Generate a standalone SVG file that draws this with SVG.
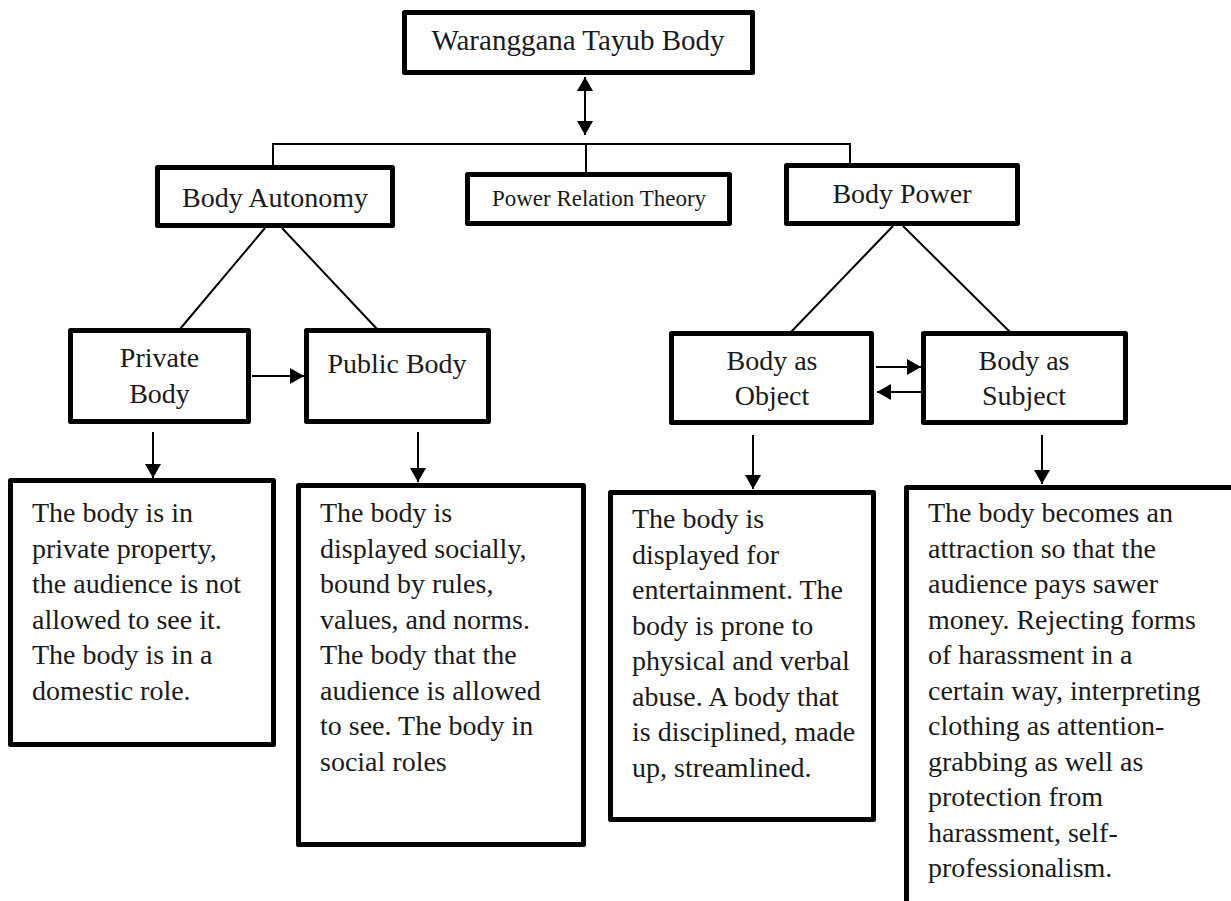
<svg xmlns="http://www.w3.org/2000/svg" width="1231" height="901" viewBox="0 0 1231 901">
<style>
.box{fill:#fff;stroke:#000;stroke-width:5;stroke-linejoin:round}
.t{font-family:"Liberation Serif","Times New Roman",serif;fill:#1a1a1a;font-size:28px}
.c{text-anchor:middle}
.ln{stroke:#000;stroke-width:2;fill:none}
</style>
<defs>
<marker id="ah" markerUnits="userSpaceOnUse" markerWidth="16" markerHeight="16" viewBox="0 0 14 16" refX="14" refY="8" orient="auto-start-reverse">
<path d="M0,0 L14,8 L0,16 Z" fill="#000"/>
</marker>
</defs>
<rect width="1231" height="901" fill="#fff"/>
<g id="connectors">
<line class="ln" x1="585" y1="77" x2="585" y2="135" marker-start="url(#ah)" marker-end="url(#ah)"/>
<line class="ln" x1="272" y1="144" x2="851" y2="144"/>
<line class="ln" x1="273" y1="144" x2="273" y2="166"/>
<line class="ln" x1="586" y1="144" x2="586" y2="173"/>
<line class="ln" x1="850" y1="144" x2="850" y2="164"/>
<line class="ln" x1="265" y1="228" x2="180" y2="329"/>
<line class="ln" x1="282" y1="228" x2="377" y2="329"/>
<line class="ln" x1="893" y1="226" x2="791" y2="332"/>
<line class="ln" x1="903" y1="226" x2="1010" y2="332"/>
<line class="ln" x1="252" y1="376" x2="304" y2="376" marker-end="url(#ah)"/>
<line class="ln" x1="876" y1="367" x2="921" y2="367" marker-end="url(#ah)"/>
<line class="ln" x1="921" y1="392" x2="877" y2="392" marker-end="url(#ah)"/>
<line class="ln" x1="153" y1="432" x2="153" y2="478" marker-end="url(#ah)"/>
<line class="ln" x1="418" y1="432" x2="418" y2="482" marker-end="url(#ah)"/>
<line class="ln" x1="753" y1="435" x2="753" y2="489" marker-end="url(#ah)"/>
<line class="ln" x1="1042" y1="435" x2="1042" y2="484" marker-end="url(#ah)"/>
</g>
<g id="root">
<rect class="box" x="404.5" y="12.5" width="348" height="60"/>
<text class="t c" x="578" y="50" style="font-size:29px">Waranggana Tayub Body</text>
</g>
<g id="autonomy">
<rect class="box" x="157.5" y="167.5" width="235" height="58"/>
<text class="t c" x="275" y="207">Body Autonomy</text>
</g>
<g id="power-relation">
<rect class="box" x="467.5" y="174.5" width="262" height="49"/>
<text class="t c" x="599" y="206" style="font-size:23px">Power Relation Theory</text>
</g>
<g id="body-power">
<rect class="box" x="786.5" y="165.5" width="231" height="58"/>
<text class="t c" x="902" y="203">Body Power</text>
</g>
<g id="private">
<rect class="box" x="70.5" y="330.5" width="178" height="91"/>
<text class="t c" x="159.5" y="367">Private</text>
<text class="t c" x="159.5" y="403">Body</text>
</g>
<g id="public">
<rect class="box" x="306.5" y="330.5" width="182" height="91"/>
<text class="t c" x="397" y="373">Public Body</text>
</g>
<g id="object">
<rect class="box" x="671.5" y="333.5" width="200" height="89"/>
<text class="t c" x="772" y="370">Body as</text>
<text class="t c" x="772" y="405">Object</text>
</g>
<g id="subject">
<rect class="box" x="923.5" y="333.5" width="202" height="89"/>
<text class="t c" x="1024" y="370">Body as</text>
<text class="t c" x="1024" y="405">Subject</text>
</g>
<g id="desc-private">
<rect class="box" x="10.5" y="480.5" width="263" height="264"/>
<text class="t" x="32" y="522">The body is in</text>
<text class="t" x="32" y="557.5">private property,</text>
<text class="t" x="32" y="593">the audience is not</text>
<text class="t" x="32" y="628.5">allowed to see it.</text>
<text class="t" x="32" y="664">The body is in a</text>
<text class="t" x="32" y="699.5">domestic role.</text>
</g>
<g id="desc-public">
<rect class="box" x="298.5" y="485.5" width="285" height="359"/>
<text class="t" x="320" y="522">The body is</text>
<text class="t" x="320" y="557.5">displayed socially,</text>
<text class="t" x="320" y="593">bound by rules,</text>
<text class="t" x="320" y="628.5">values, and norms.</text>
<text class="t" x="320" y="664">The body that the</text>
<text class="t" x="320" y="699.5">audience is allowed</text>
<text class="t" x="320" y="735">to see. The body in</text>
<text class="t" x="320" y="770.5">social roles</text>
</g>
<g id="desc-object">
<rect class="box" x="610.5" y="492.5" width="263" height="327"/>
<text class="t" x="632" y="528">The body is</text>
<text class="t" x="632" y="563.5">displayed for</text>
<text class="t" x="632" y="599">entertainment. The</text>
<text class="t" x="632" y="634.5">body is prone to</text>
<text class="t" x="632" y="670">physical and verbal</text>
<text class="t" x="632" y="705.5">abuse. A body that</text>
<text class="t" x="632" y="741">is disciplined, made</text>
<text class="t" x="632" y="776.5">up, streamlined.</text>
</g>
<g id="desc-subject">
<rect class="box" x="906.5" y="487.5" width="400" height="500"/>
<text class="t" x="928" y="522">The body becomes an</text>
<text class="t" x="928" y="557.5">attraction so that the</text>
<text class="t" x="928" y="593">audience pays sawer</text>
<text class="t" x="928" y="628.5">money. Rejecting forms</text>
<text class="t" x="928" y="664">of harassment in a</text>
<text class="t" x="928" y="699.5">certain way, interpreting</text>
<text class="t" x="928" y="735">clothing as attention-</text>
<text class="t" x="928" y="770.5">grabbing as well as</text>
<text class="t" x="928" y="806">protection from</text>
<text class="t" x="928" y="841.5">harassment, self-</text>
<text class="t" x="928" y="877">professionalism.</text>
</g>
</svg>
